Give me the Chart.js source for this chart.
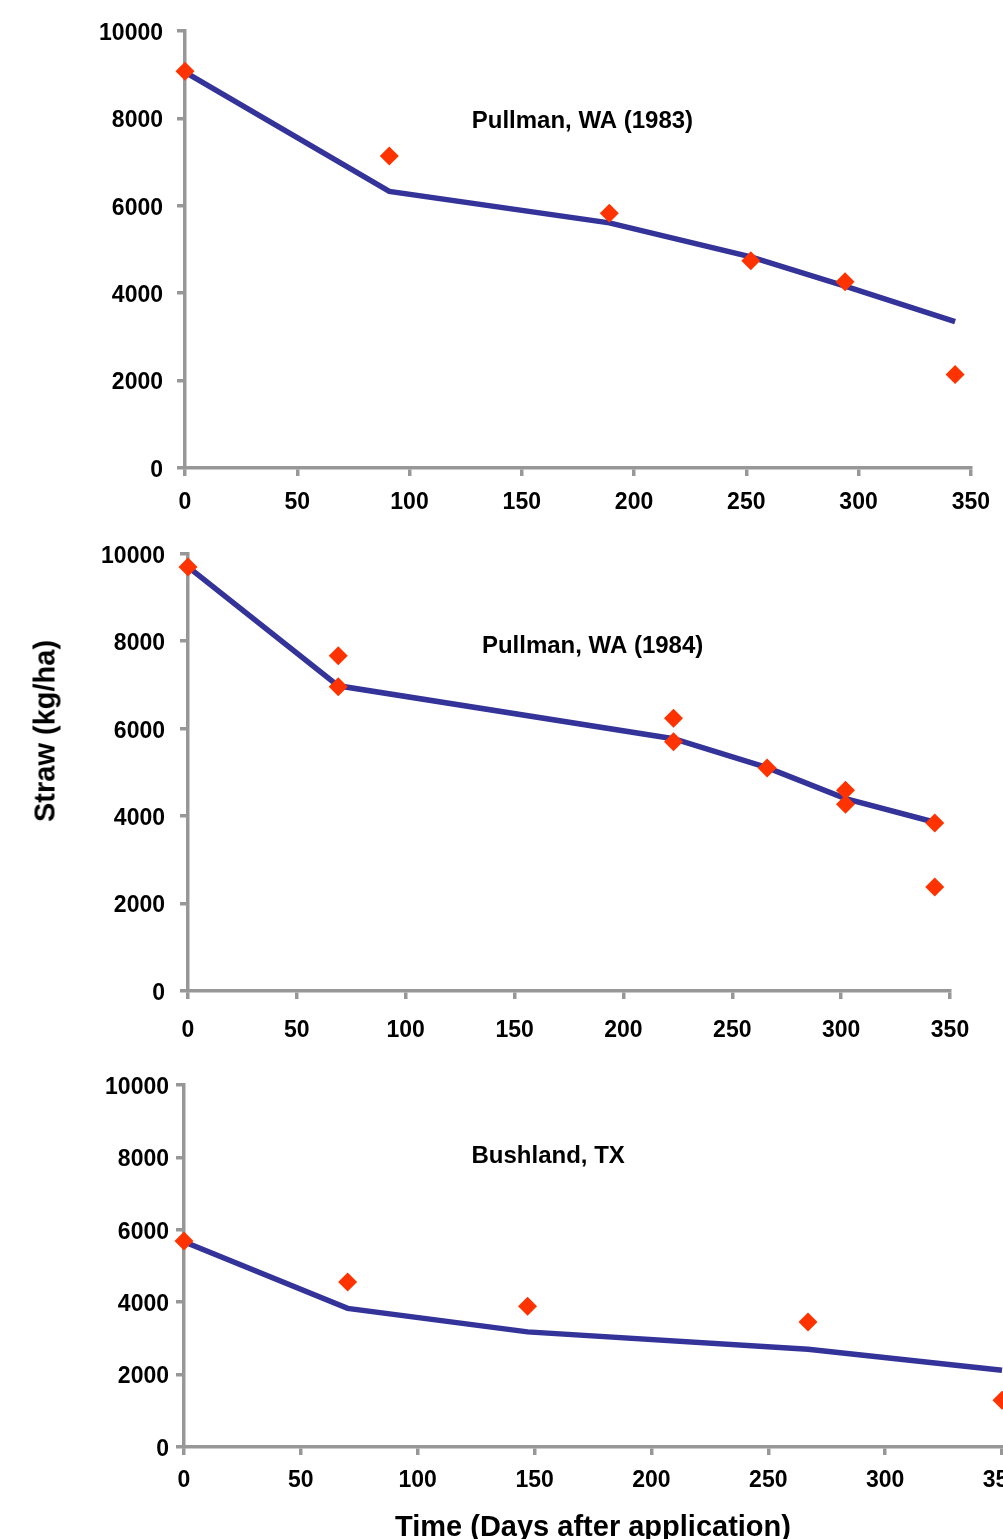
<!DOCTYPE html>
<html>
<head>
<meta charset="utf-8">
<script src="https://cdn.jsdelivr.net/npm/chart.js@4.4.1/dist/chart.umd.min.js"></script>
<style>
html, body { margin: 0; padding: 0; background: #fff; overflow: hidden; width: 1003px; height: 1539px; }
.panel { position: absolute; left: 0; }
#yTitle {
    position: absolute; left: 45px; top: 731px;
    transform: translate(-50%, -50%) rotate(-90deg);
    font: bold 29px 'Liberation Sans', Arial, sans-serif;
    white-space: nowrap; color: #000;
}
</style>
</head>
<body>
<div class="panel" style="top:0;width:1003px;height:520px"><canvas id="chart83"></canvas></div>
<div class="panel" style="top:525px;width:1003px;height:530px"><canvas id="chart84"></canvas></div>
<div class="panel" style="top:1060px;width:1040px;height:485px"><canvas id="chartTX"></canvas></div>
<div id="yTitle">Straw (kg/ha)</div>
<script>
// Pullman, WA (1983)
const pull83ObsDays = [0, 91, 189, 252, 294, 343];
const pull83ObsStraw = [9080, 7140, 5830, 4740, 4260, 2140];
const pull83SimDays = [0, 91, 189, 252, 294, 343];
const pull83SimStraw = [9060, 6330, 5610, 4830, 4160, 3350];

// Pullman, WA (1984)
const pull84ObsDays = [0, 69, 69, 223, 223, 266, 302, 302, 343, 343];
const pull84ObsStraw = [9700, 7670, 6960, 6240, 5700, 5100, 4590, 4270, 3840, 2380];
const pull84SimDays = [0, 69, 223, 266, 302, 343];
const pull84SimStraw = [9700, 6980, 5770, 5110, 4400, 3860];

// Bushland, TX
const bushObsDays = [0, 70, 147, 267, 350];
const bushObsStraw = [5690, 4560, 3890, 3450, 1290];
const bushSimDays = [0, 70, 147, 267, 350];
const bushSimStraw = [5670, 3830, 3180, 2700, 2120];

const dayTicks = [0, 50, 100, 150, 200, 250, 300, 350];
const strawTicks = [0, 2000, 4000, 6000, 8000, 10000];

const FONT = "'Liberation Sans', Arial, sans-serif";
const AXIS_GREY = '#979797';

const toPoints = (xs, ys) => xs.map((x, i) => ({ x: x, y: ys[i] }));

const panelLabel = {
    id: 'panelLabel',
    afterDatasetsDraw(chart, args, opts) {
        if (!opts.text) return;
        const { ctx, scales } = chart;
        ctx.save();
        ctx.font = 'bold 24px ' + FONT;
        ctx.fillStyle = '#000';
        ctx.textAlign = 'left';
        ctx.textBaseline = 'middle';
        ctx.fillText(opts.text, scales.x.getPixelForValue(opts.day), scales.y.getPixelForValue(opts.value) + 2);
        ctx.restore();
    }
};

const makePanel = (id, obsDays, obsStraw, simDays, simStraw, label, frame) => {
    new Chart(document.getElementById(id), {
        type: 'scatter',
        data: {
            datasets: [{
                data: toPoints(obsDays, obsStraw),
                backgroundColor: '#ff3300',
                borderColor: '#ff3300',
                borderWidth: 0,
                pointStyle: 'rectRot',
                pointRadius: 9.5,
                clip: false,
                order: 0
            }, {
                type: 'line',
                data: toPoints(simDays, simStraw),
                borderColor: '#333399',
                borderWidth: 5.5,
                pointRadius: 0,
                tension: 0,
                fill: false,
                clip: false,
                order: 1
            }]
        },
        options: {
            responsive: true,
            maintainAspectRatio: false,
            animation: false,
            layout: { padding: { top: frame.padTop, right: frame.padRight, bottom: 0, left: 0 } },
            plugins: {
                legend: { display: false },
                tooltip: { enabled: false },
                panelLabel: label
            },
            scales: {
                x: {
                    type: 'linear',
                    min: dayTicks[0],
                    max: dayTicks[dayTicks.length - 1],
                    afterBuildTicks: (s) => { s.ticks = dayTicks.map(v => ({ value: v })); },
                    afterFit: (s) => { s.height = frame.xHeight; },
                    border: { color: AXIS_GREY, width: 3.5 },
                    grid: { drawOnChartArea: false, drawTicks: true, tickLength: 8, color: AXIS_GREY, lineWidth: 3.5 },
                    ticks: {
                        autoSkip: false, maxRotation: 0, padding: frame.xPad,
                        color: '#000', font: { family: FONT, size: 23, weight: 'bold' },
                        callback: (v) => String(v)
                    },
                    title: {
                        display: !!frame.xTitle, text: frame.xTitle || '',
                        color: '#000', padding: { top: 0, bottom: 0 },
                        font: { family: FONT, size: 29, weight: 'bold' }
                    }
                },
                y: {
                    min: strawTicks[0],
                    max: strawTicks[strawTicks.length - 1],
                    afterBuildTicks: (s) => { s.ticks = strawTicks.map(v => ({ value: v })); },
                    afterFit: (s) => { s.width = frame.yWidth; },
                    border: { color: AXIS_GREY, width: 3.5 },
                    grid: { drawOnChartArea: false, drawTicks: true, tickLength: 8, color: AXIS_GREY, lineWidth: 3.5 },
                    ticks: {
                        padding: frame.yPad, labelOffset: 2.5,
                        color: '#000', font: { family: FONT, size: 23, weight: 'bold' },
                        callback: (v) => String(v)
                    }
                }
            }
        },
        plugins: [panelLabel]
    });
};

makePanel('chart83', pull83ObsDays, pull83ObsStraw, pull83SimDays, pull83SimStraw,
    { text: 'Pullman, WA (1983)', day: 127.7, value: 7980 },
    { padTop: 31, padRight: 31, xHeight: 52, yWidth: 185, xPad: 13, yPad: 14 });

makePanel('chart84', pull84ObsDays, pull84ObsStraw, pull84SimDays, pull84SimStraw,
    { text: 'Pullman, WA (1984)', day: 135, value: 7920 },
    { padTop: 28, padRight: 53, xHeight: 64, yWidth: 188, xPad: 18, yPad: 15 });

makePanel('chartTX', bushObsDays, bushObsStraw, bushSimDays, bushSimStraw,
    { text: 'Bushland, TX', day: 123, value: 8090 },
    { padTop: 25, padRight: 38, xHeight: 98, yWidth: 184, xPad: 12, yPad: 7,
      xTitle: 'Time (Days after application)' });
</script>
</body>
</html>
